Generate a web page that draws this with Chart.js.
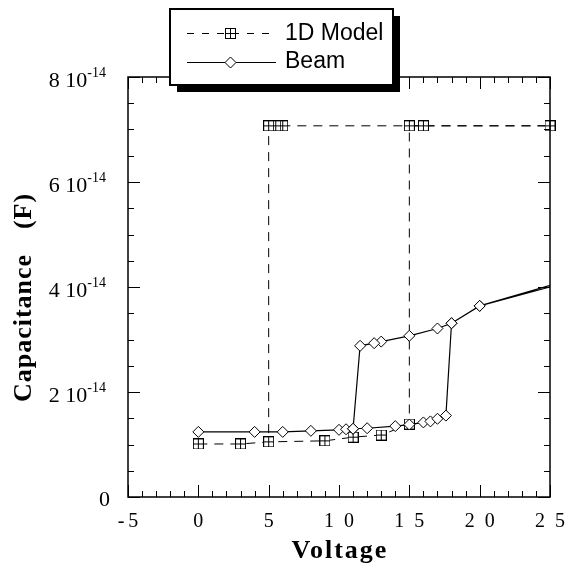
<!DOCTYPE html>
<html>
<head>
<meta charset="utf-8">
<script src="https://cdn.jsdelivr.net/npm/chart.js@4.4.1/dist/chart.umd.min.js"></script>
<style>
  html, body { margin: 0; padding: 0; background: #fff; }
  canvas { display: block; }
</style>
</head>
<body>
<canvas id="capChart" width="570" height="565"></canvas>
<script>
// 1D model: up-sweep on the lower branch, snap at 15 V, then back down and release at 5 V
const modelVolt = [0, 3, 5, 9, 11, 13, 15, 15, 16, 25, 16, 15, 6, 5.5, 5, 5];
const modelCap = [1.01e-14, 1.01e-14, 1.05e-14, 1.07e-14, 1.14e-14, 1.18e-14, 1.39e-14,
  7.07e-14, 7.07e-14, 7.07e-14, 7.07e-14, 7.07e-14, 7.07e-14, 7.07e-14, 7.07e-14, 1.05e-14];

// beam: lower branch up to 17.6 V, jump, then back down to 11 V
const beamVolt = [0, 4, 6, 8, 10, 10.5, 11, 12, 14, 15, 16, 16.5, 17, 17.6,
  18, 20, 25, 25, 20, 18, 17, 15, 13, 12.5, 11.5, 11];
const beamCap = [1.24e-14, 1.24e-14, 1.24e-14, 1.26e-14, 1.28e-14, 1.29e-14, 1.30e-14, 1.31e-14,
  1.35e-14, 1.38e-14, 1.42e-14, 1.44e-14, 1.49e-14, 1.55e-14,
  3.31e-14, 3.64e-14, 4.03e-14, 4.0e-14, 3.64e-14, 3.31e-14, 3.21e-14, 3.07e-14, 2.96e-14, 2.93e-14, 2.88e-14, 1.30e-14];

const xTicks = [-5, 0, 5, 10, 15, 20, 25];
const xTickLabels = ['-\u20095', '0', '5', '1\u20020', '1\u20025', '2\u20020', '2\u20025'];
const yTicks = [0, 2e-14, 4e-14, 6e-14, 8e-14];
const yTickMantissa = ['0', '2', '4', '6', '8'];
const yTickExponent = '-14';

const SERIF = "'Liberation Serif', 'Times New Roman', serif";
const SANS = "'Liberation Sans', Arial, sans-serif";

function boxCross(size) {
  const c = document.createElement('canvas');
  c.width = size;
  c.height = size;
  const g = c.getContext('2d');
  g.fillStyle = '#fff';
  g.fillRect(0, 0, size, size);
  g.strokeStyle = '#000';
  g.lineWidth = 1;
  g.strokeRect(0.5, 0.5, size - 1, size - 1);
  const m = Math.floor(size / 2) + 0.5;
  g.beginPath();
  g.moveTo(m, 0);
  g.lineTo(m, size);
  g.moveTo(0, m);
  g.lineTo(size, m);
  g.stroke();
  return c;
}
const boxMarker = boxCross(11);

function diamond(ctx, x, y, r) {
  ctx.beginPath();
  ctx.moveTo(x - r, y);
  ctx.lineTo(x, y - r);
  ctx.lineTo(x + r, y);
  ctx.lineTo(x, y + r);
  ctx.closePath();
  ctx.fillStyle = '#fff';
  ctx.fill();
  ctx.stroke();
}

// frame with inward ticks on all four sides
const framePlugin = {
  id: 'frame',
  afterDatasetsDraw(chart) {
    const { ctx, chartArea: a, scales: { x, y } } = chart;
    ctx.save();
    ctx.strokeStyle = '#000';
    ctx.lineWidth = 1;
    ctx.beginPath();
    for (let v = -5; v <= 25; v++) {
      const px = Math.round(x.getPixelForValue(v)) + 0.5;
      const len = v % 5 === 0 ? 12 : 6;
      ctx.moveTo(px, a.bottom);
      ctx.lineTo(px, a.bottom - len);
      ctx.moveTo(px, a.top);
      ctx.lineTo(px, a.top + len);
    }
    for (let k = 0; k <= 16; k++) {
      const py = Math.round(y.getPixelForValue(k * 0.5e-14)) + 0.5;
      const len = k % 4 === 0 ? 12 : 6;
      ctx.moveTo(a.left, py);
      ctx.lineTo(a.left + len, py);
      ctx.moveTo(a.right, py);
      ctx.lineTo(a.right - len, py);
    }
    ctx.stroke();
    ctx.lineWidth = 1.5;
    ctx.strokeRect(a.left, a.top, a.right - a.left, a.bottom - a.top);
    ctx.restore();
  },
};

const labelPlugin = {
  id: 'labels',
  afterDraw(chart) {
    const { ctx, chartArea: a, scales: { y } } = chart;
    ctx.save();
    ctx.fillStyle = '#000';
    ctx.strokeStyle = '#000';

    // y tick labels with superscript exponent
    const right = 106;
    yTicks.forEach((v, i) => {
      const py = y.getPixelForValue(v);
      ctx.textAlign = 'right';
      ctx.textBaseline = 'alphabetic';
      if (v === 0) {
        ctx.font = `22px ${SERIF}`;
        ctx.fillText(yTickMantissa[i], right + 4, py + 9);
        return;
      }
      ctx.font = `14px ${SERIF}`;
      const supW = ctx.measureText(yTickExponent).width;
      ctx.fillText(yTickExponent, right, py);
      ctx.font = `22px ${SERIF}`;
      ctx.fillText(yTickMantissa[i] + ' 10', right - supW, py + 10);
    });

    // axis titles
    ctx.font = `bold 26px ${SERIF}`;
    ctx.letterSpacing = '2px';
    ctx.textAlign = 'center';
    ctx.textBaseline = 'middle';
    ctx.fillText('Voltage', (a.left + a.right) / 2 + 1, 551);

    ctx.letterSpacing = '1px';
    ctx.save();
    ctx.translate(24, 296);
    ctx.rotate(-Math.PI / 2);
    ctx.fillText('Capacitance', -32, 0);
    ctx.fillText('(F)', 85, 0);
    ctx.restore();
    ctx.letterSpacing = '0px';

    // legend box with drop shadow
    const bx = 170, by = 9, bw = 223, bh = 76;
    ctx.fillStyle = '#000';
    ctx.fillRect(bx + 7, by + 7, bw, bh);
    ctx.fillStyle = '#fff';
    ctx.fillRect(bx, by, bw, bh);
    ctx.lineWidth = 2;
    ctx.strokeRect(bx, by, bw, bh);

    ctx.lineWidth = 1;
    ctx.beginPath();
    ctx.setLineDash([7, 8]);
    ctx.moveTo(187, 33.5);
    ctx.lineTo(276, 33.5);
    ctx.stroke();
    ctx.setLineDash([]);
    ctx.drawImage(boxMarker, 225, 28);

    ctx.beginPath();
    ctx.moveTo(187, 62.5);
    ctx.lineTo(276, 62.5);
    ctx.stroke();
    diamond(ctx, 230.5, 62.5, 5.5);

    ctx.fillStyle = '#000';
    ctx.font = `23px ${SANS}`;
    ctx.textAlign = 'left';
    ctx.textBaseline = 'middle';
    ctx.fillText('1D Model', 285, 34);
    ctx.fillText('Beam', 285, 62);
    ctx.restore();
  },
};

const ctx = document.getElementById('capChart').getContext('2d');
new Chart(ctx, {
  type: 'scatter',
  data: {
    datasets: [
      {
        label: 'Beam',
        data: beamVolt.map((v, i) => ({ x: v, y: beamCap[i] })),
        showLine: true,
        borderColor: '#000',
        borderWidth: 1.2,
        pointStyle: 'rectRot',
        pointRadius: (c) => (beamVolt[c.dataIndex] >= 25 ? 0 : 5.5),
        pointBackgroundColor: '#fff',
        pointBorderColor: '#000',
        pointBorderWidth: 1,
        tension: 0,
      },
      {
        label: '1D Model',
        data: modelVolt.map((v, i) => ({ x: v, y: modelCap[i] })),
        showLine: true,
        borderColor: '#000',
        borderWidth: 1,
        borderDash: [9, 7],
        pointStyle: boxMarker,
        pointRadius: 6,
        tension: 0,
        clip: false,
      },
    ],
  },
  options: {
    responsive: false,
    animation: false,
    layout: { padding: { top: 77, right: 20, left: 0, bottom: 0 } },
    scales: {
      x: {
        type: 'linear',
        min: -5,
        max: 25,
        afterBuildTicks: (scale) => {
          scale.ticks = xTicks.map((value) => ({ value }));
        },
        afterFit: (scale) => {
          scale.height = 68;
          scale.paddingLeft = 0;
          scale.paddingRight = 0;
        },
        ticks: {
          color: '#000',
          font: { family: SERIF, size: 20 },
          padding: 13,
          maxRotation: 0,
          callback: (value) => xTickLabels[xTicks.indexOf(value)],
        },
        grid: { display: false, drawTicks: false },
        border: { display: false },
      },
      y: {
        type: 'linear',
        min: 0,
        max: 8e-14,
        afterFit: (scale) => {
          scale.width = 128;
          scale.paddingTop = 0;
          scale.paddingBottom = 0;
        },
        ticks: { display: false },
        grid: { display: false, drawTicks: false },
        border: { display: false },
      },
    },
    plugins: {
      legend: { display: false },
      tooltip: { enabled: false },
    },
  },
  plugins: [framePlugin, labelPlugin],
});
</script>
</body>
</html>
